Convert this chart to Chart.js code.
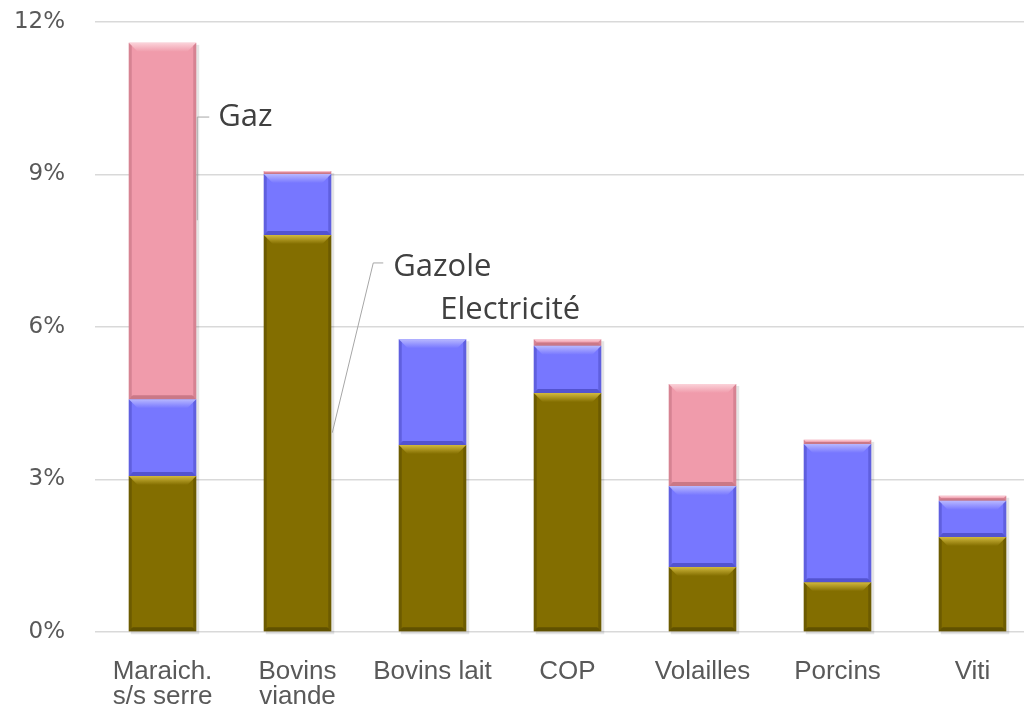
<!DOCTYPE html>
<html>
<head>
<meta charset="utf-8">
<script src="https://cdn.jsdelivr.net/npm/chart.js@4"></script>
<style>
  html, body { margin: 0; padding: 0; background: #fff; overflow: hidden; }
  #wrap { width: 1040px; height: 721px; }
</style>
</head>
<body>
<div id="wrap"><canvas id="energie" width="1040" height="721"></canvas></div>
<script>
// Part des charges d'énergie par type d'exploitation (en %)
const categories = [['Maraich.', 's/s serre'], ['Bovins', 'viande'], 'Bovins lait', 'COP', 'Volailles', 'Porcins', 'Viti'];
const gazole = [3.07, 7.81, 3.68, 4.70, 1.28, 0.98, 1.87];
const electricite = [1.51, 1.20, 2.08, 0.93, 1.59, 2.72, 0.71];
const gaz = [7.01, 0.06, 0, 0.13, 2.01, 0.08, 0.10];
const yTicks = [0, 3, 6, 9, 12];

// colours: base, light (top bevel), dark (bottom/sides)
const palette = {
    gazole: ['#836E00', '#D2B93E', '#4A3E00'],
    electricite: ['#7777FF', '#B8B8FF', '#3C3CB0'],
    gaz: ['#F09BAB', '#FBD3DA', '#B0606F']
};

// leader-line labels, anchored on a category and a value
const callouts = [
    { text: 'Gaz', cat: 0, value: 10.13, tx: 22, line: [[13, 10.13], [1, 10.13], [1, 8.1]] },
    { text: 'Gazole', cat: 1, value: 7.18, tx: 62, line: [[52, 7.26], [42, 7.26], [1, 3.92]] },
    { text: 'Electricité', cat: 1, value: 6.33, tx: 109, line: null }
];

const bevelPlugin = {
    id: 'bevel',
    beforeDatasetsDraw(chart) {
        // soft shadow behind each stacked column
        const ctx = chart.ctx;
        const metas = chart.getSortedVisibleDatasetMetas();
        const y = chart.scales.y;
        ctx.save();
        ctx.fillStyle = 'rgba(0,0,0,0.10)';
        metas[0].data.forEach((bar, i) => {
            let total = 0;
            chart.data.datasets.forEach(ds => total += ds.data[i]);
            const top = y.getPixelForValue(total);
            const l = bar.x - bar.width / 2;
            ctx.fillRect(l + 2, top + 2, bar.width + 1, bar.base - top + 1);
        });
        ctx.restore();
    },
    afterDatasetsDraw(chart) {
        const ctx = chart.ctx;
        ctx.save();
        chart.getSortedVisibleDatasetMetas().forEach(meta => {
            const cols = chart.data.datasets[meta.index].shades;
            meta.data.forEach(bar => {
                const l = bar.x - bar.width / 2, r = bar.x + bar.width / 2;
                const t = Math.min(bar.y, bar.base), btm = Math.max(bar.y, bar.base);
                const h = btm - t;
                if (h < 0.5) return;
                const b = Math.min(9, h / 2);
                const s = Math.min(3, h / 2);
                const d = Math.min(4, h / 2);
                // top bevel
                const g = ctx.createLinearGradient(0, t, 0, t + b);
                g.addColorStop(0, cols[1]);
                g.addColorStop(1, cols[0]);
                ctx.fillStyle = g;
                ctx.beginPath();
                ctx.moveTo(l, t); ctx.lineTo(r, t); ctx.lineTo(r - b, t + b); ctx.lineTo(l + b, t + b);
                ctx.closePath(); ctx.fill();
                // bottom bevel
                ctx.fillStyle = cols[2];
                ctx.globalAlpha = 0.6;
                ctx.beginPath();
                ctx.moveTo(l, btm); ctx.lineTo(r, btm); ctx.lineTo(r - d, btm - d); ctx.lineTo(l + d, btm - d);
                ctx.closePath(); ctx.fill();
                // side bevels
                ctx.globalAlpha = 0.4;
                ctx.beginPath();
                ctx.moveTo(l, t); ctx.lineTo(l + s, t + Math.min(b, s)); ctx.lineTo(l + s, btm - s); ctx.lineTo(l, btm);
                ctx.closePath(); ctx.fill();
                ctx.beginPath();
                ctx.moveTo(r, t); ctx.lineTo(r - s, t + Math.min(b, s)); ctx.lineTo(r - s, btm - s); ctx.lineTo(r, btm);
                ctx.closePath(); ctx.fill();
                ctx.globalAlpha = 1;
            });
        });
        ctx.restore();
    }
};

const calloutPlugin = {
    id: 'callouts',
    afterDraw(chart) {
        const ctx = chart.ctx;
        const x = chart.scales.x, y = chart.scales.y;
        const meta = chart.getDatasetMeta(0);
        ctx.save();
        callouts.forEach(c => {
            const edge = x.getPixelForValue(c.cat) + meta.data[c.cat].width / 2;
            if (c.line) {
                ctx.strokeStyle = '#A6A6A6';
                ctx.lineWidth = 1;
                ctx.beginPath();
                c.line.forEach((p, k) => {
                    const px = edge + p[0], py = y.getPixelForValue(p[1]);
                    if (k === 0) ctx.moveTo(px, py); else ctx.lineTo(px, py);
                });
                ctx.stroke();
            }
            ctx.fillStyle = '#404040';
            ctx.font = '31px "Open Sans"';
            ctx.textBaseline = 'middle';
            ctx.textAlign = 'left';
            ctx.fillText(c.text, edge + c.tx, y.getPixelForValue(c.value));
        });
        ctx.restore();
    }
};

const chart = new Chart(document.getElementById('energie').getContext('2d'), {
    type: 'bar',
    data: {
        labels: categories,
        datasets: [
            { label: 'Gazole', data: gazole, backgroundColor: palette.gazole[0], shades: palette.gazole },
            { label: 'Electricité', data: electricite, backgroundColor: palette.electricite[0], shades: palette.electricite },
            { label: 'Gaz', data: gaz, backgroundColor: palette.gaz[0], shades: palette.gaz }
        ]
    },
    options: {
        responsive: false,
        animation: false,
        events: [],
        layout: { padding: { top: 22, left: 0, right: 0, bottom: 0 } },
        datasets: { bar: { barPercentage: 0.5, categoryPercentage: 1.0, borderWidth: 0 } },
        plugins: {
            legend: { display: false },
            tooltip: { enabled: false }
        },
        scales: {
            x: {
                stacked: true,
                grid: { display: false, drawTicks: false },
                border: { display: false },
                afterFit: s => { s.height = 89; },
                ticks: {
                    padding: 27,
                    color: '#595959',
                    font: { family: '"Liberation Sans", Arial', size: 26, lineHeight: 0.96 }
                }
            },
            y: {
                stacked: true,
                min: 0,
                max: 12,
                // fixed axis width; tick padding should not push the plot top down
                afterFit: s => { s.width = 95; s.paddingTop = 0; s.paddingBottom = 0; },
                afterBuildTicks: s => { s.ticks = yTicks.map(v => ({ value: v })); },
                grid: { color: '#D9D9D9', lineWidth: 1.5, drawTicks: false },
                border: { display: false },
                ticks: {
                    padding: 30,
                    color: '#595959',
                    font: { family: '"DejaVu Sans"', size: 23 },
                    callback: v => v + '%'
                }
            }
        }
    },
    plugins: [bevelPlugin, calloutPlugin]
});
</script>
</body>
</html>
